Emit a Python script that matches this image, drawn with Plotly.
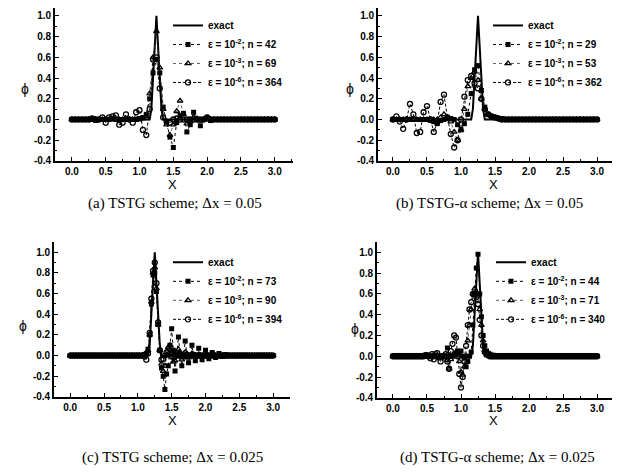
import plotly.graph_objects as go

W, H = 626, 475
OFF = 8                 # default page margin around the plot div
FW, FH = W - 2 * OFF, H - 2 * OFF

# ---------------- grids ----------------
x_coarse = [0.0, 0.05, 0.1, 0.15, 0.2, 0.25, 0.3, 0.35, 0.4, 0.45,
            0.5, 0.55, 0.6, 0.65, 0.7, 0.75, 0.8, 0.85, 0.9, 0.95,
            1.0, 1.05, 1.1, 1.15, 1.2, 1.25, 1.3, 1.35, 1.4, 1.45,
            1.5, 1.55, 1.6, 1.65, 1.7, 1.75, 1.8, 1.85, 1.9, 1.95,
            2.0, 2.05, 2.1, 2.15, 2.2, 2.25, 2.3, 2.35, 2.4, 2.45,
            2.5, 2.55, 2.6, 2.65, 2.7, 2.75, 2.8, 2.85, 2.9, 2.95,
            3.0]

x_fine = [0.0, 0.025, 0.05, 0.075, 0.1, 0.125, 0.15, 0.175, 0.2, 0.225,
          0.25, 0.275, 0.3, 0.325, 0.35, 0.375, 0.4, 0.425, 0.45, 0.475,
          0.5, 0.525, 0.55, 0.575, 0.6, 0.625, 0.65, 0.675, 0.7, 0.725,
          0.75, 0.775, 0.8, 0.825, 0.85, 0.875, 0.9, 0.925, 0.95, 0.975,
          1.0, 1.025, 1.05, 1.075, 1.1, 1.125, 1.15, 1.175, 1.2, 1.225,
          1.25, 1.275, 1.3, 1.325, 1.35, 1.375, 1.4, 1.425, 1.45, 1.475,
          1.5, 1.525, 1.55, 1.575, 1.6, 1.625, 1.65, 1.675, 1.7, 1.725,
          1.75, 1.775, 1.8, 1.825, 1.85, 1.875, 1.9, 1.925, 1.95, 1.975,
          2.0, 2.025, 2.05, 2.075, 2.1, 2.125, 2.15, 2.175, 2.2, 2.225,
          2.25, 2.275, 2.3, 2.325, 2.35, 2.375, 2.4, 2.425, 2.45, 2.475,
          2.5, 2.525, 2.55, 2.575, 2.6, 2.625, 2.65, 2.675, 2.7, 2.725,
          2.75, 2.775, 2.8, 2.825, 2.85, 2.875, 2.9, 2.925, 2.95, 2.975,
          3.0]

# exact solution
exact_x = [0.0, 1.15, 1.175, 1.2, 1.225, 1.25, 1.275, 1.3, 1.325, 1.35, 3.0]
exact_y = [0.0, 0.0, 0.1, 0.35, 0.7, 1.0, 0.7, 0.35, 0.1, 0.0, 0.0]

# ---------------- (a) TSTG, dx = 0.05 ----------------
a_e2 = [0, 0, 0, 0, 0, 0, 0, -0.01, 0, 0,
        0, 0, 0.01, 0, 0, 0, 0, 0, 0, 0,
        0.01, 0.02, 0.05, 0.2, 0.45, 0.58, 0.45, 0.12, -0.02, -0.17,
        -0.27, -0.03, 0.04, 0.06, -0.12, -0.05, 0.07, 0, -0.06, 0,
        0.02, -0.01, 0, 0, 0, 0, 0, 0, 0, 0,
        0, 0, 0, 0, 0, 0, 0, 0, 0, 0,
        0]
a_e3 = [0, 0, 0, 0, 0, 0, 0, 0, 0, 0,
        0, 0, 0, 0, 0, 0, 0, 0, 0, 0,
        0, 0.01, 0.03, 0.25, 0.6, 0.85, 0.5, 0.1, -0.05, -0.15,
        -0.05, 0.08, 0.18, 0.05, -0.04, -0.02, 0.02, 0.01, -0.01, 0,
        0, 0, 0, 0, 0, 0, 0, 0, 0, 0,
        0, 0, 0, 0, 0, 0, 0, 0, 0, 0,
        0]
a_e6 = [0, 0, 0, 0, 0, 0, 0.01, 0, 0, 0.02,
        -0.03, 0.02, 0.03, 0.04, -0.05, -0.03, 0.05, 0, -0.03, 0.07,
        0.09, -0.1, -0.15, 0.1, 0.58, 0.6, 0.3, 0.02, -0.02, -0.03,
        0, 0.01, 0, 0, 0, 0, 0, 0, 0, 0,
        0.02, 0, 0, 0, 0, 0, 0, 0, 0, 0,
        0, 0, 0, 0, 0, 0, 0, 0, 0, 0,
        0]

# ---------------- (b) TSTG-alpha, dx = 0.05 ----------------
b_e2 = [0, 0, 0, 0, 0, 0, 0, 0, 0, 0,
        0, -0.01, -0.02, -0.04, -0.01, 0, 0.01, 0.01, 0, -0.05,
        -0.1, -0.04, 0.05, 0.25, 0.48, 0.52, 0.28, 0.12, 0.05, 0.03,
        0.02, 0.01, 0.01, 0, 0, 0, 0, 0, 0, 0,
        0, 0, 0, 0, 0, 0, 0, 0, 0, 0,
        0, 0, 0, 0, 0, 0, 0, 0, 0, 0,
        0]
b_e3 = [0, 0, 0, 0, 0, 0, 0, 0, 0, 0,
        0, 0, 0, 0, 0.02, 0.05, 0.02, -0.02, -0.12, -0.2,
        -0.1, 0.1, 0.32, 0.4, 0.46, 0.38, 0.2, 0.1, 0.05, 0.03,
        0.02, 0.01, 0, 0, 0, 0, 0, 0, 0, 0,
        0, 0, 0, 0, 0, 0, 0, 0, 0, 0,
        0, 0, 0, 0, 0, 0, 0, 0, 0, 0,
        0]
b_e6 = [0, 0.03, -0.02, -0.09, 0, 0.15, 0.05, -0.13, -0.12, 0.07,
        0.13, 0, -0.12, -0.03, 0.17, 0.24, 0.02, -0.14, -0.27, -0.2,
        0, 0.22, 0.38, 0.42, 0.35, 0.3, 0.2, 0.1, 0.05, 0.03,
        0.02, 0.01, 0, 0, 0, 0, 0, 0, 0, 0,
        0, 0, 0, 0, 0, 0, 0, 0, 0, 0,
        0, 0, 0, 0, 0, 0, 0, 0, 0, 0,
        0]

# ---------------- (c) TSTG, dx = 0.025 ----------------
c_e2 = [0, 0, 0, 0, 0, 0, 0, 0, 0, 0,
        0, 0, 0, 0, 0, 0, 0, 0, 0, 0,
        0, 0, 0, 0, 0, 0, 0, 0, 0, 0,
        0, 0, 0, 0, 0, 0, 0, 0, 0, 0,
        0, 0, 0, 0, 0.01, 0.02, 0.06, 0.2, 0.5, 0.78,
        0.8, 0.62, 0.3, 0.05, -0.12, -0.2, -0.33, -0.18, -0.1, 0.1,
        0.26, 0.05, -0.15, 0, 0.18, 0.02, -0.1, 0, 0.14, 0.01,
        -0.07, 0, 0.1, 0.01, -0.05, 0, 0.07, 0, -0.04, 0,
        0.05, 0, -0.03, 0, 0.03, 0, -0.02, 0, 0.02, 0,
        -0.01, 0, 0.01, 0, 0, 0, 0, 0, 0, 0,
        0, 0, 0, 0, 0, 0, 0, 0, 0, 0,
        0, 0, 0, 0, 0, 0, 0, 0, 0, 0,
        0]
c_e3 = [0, 0, 0, 0, 0, 0, 0, 0, 0, 0,
        0, 0, 0, 0, 0, 0, 0, 0, 0, 0,
        0, 0, 0, 0, 0, 0, 0, 0, 0, 0,
        0, 0, 0, 0, 0, 0, 0, 0, 0, 0,
        0, 0, 0, 0, 0.01, 0.02, 0.05, 0.2, 0.52, 0.8,
        0.85, 0.65, 0.3, 0.05, -0.08, -0.15, -0.1, 0, 0.08, 0.1,
        0.02, -0.06, -0.05, 0.03, 0.06, 0.01, -0.04, -0.02, 0.03, 0.02,
        -0.02, -0.01, 0.02, 0.01, -0.01, 0, 0.01, 0, 0, 0,
        0, 0, 0, 0, 0, 0, 0, 0, 0, 0,
        0, 0, 0, 0, 0, 0, 0, 0, 0, 0,
        0, 0, 0, 0, 0, 0, 0, 0, 0, 0,
        0, 0, 0, 0, 0, 0, 0, 0, 0, 0,
        0]
c_e6 = [0, 0, 0, 0, 0, 0, 0, 0, 0, 0,
        0, 0, 0, 0, 0, 0, 0, 0, 0, 0,
        0, 0, 0, 0, 0, 0, 0, 0, 0, 0,
        0, 0, 0, 0, 0, 0, 0, 0, 0, 0,
        0, 0, 0, 0, -0.01, -0.04, 0.02, 0.22, 0.55, 0.82,
        0.9, 0.7, 0.32, 0.05, -0.04, -0.03, 0, 0.03, 0.04, 0.02,
        -0.01, -0.01, 0, 0.01, 0, 0, 0, 0, 0, 0,
        0, 0, 0, 0, 0, 0, 0, 0, 0, 0,
        0, 0, 0, 0, 0, 0, 0, 0, 0, 0,
        0, 0, 0, 0, 0, 0, 0, 0, 0, 0,
        0, 0, 0, 0, 0, 0, 0, 0, 0, 0,
        0, 0, 0, 0, 0, 0, 0, 0, 0, 0,
        0]

# ---------------- (d) TSTG-alpha, dx = 0.025 ----------------
d_e2 = [0, 0, 0, 0, 0, 0, 0, 0, 0, 0,
        0, 0, 0, 0, 0, 0, 0, 0, 0, 0,
        0, 0, 0, 0, 0, 0, 0, 0, 0, 0,
        0, 0, 0.08, 0, 0, 0, 0.01, 0.02, 0.05, 0.04,
        0.05, 0, -0.02, -0.1, -0.05, 0, 0.04, 0.3, 0.6, 0.85,
        0.98, 0.6, 0.38, 0.2, 0.1, 0.05, 0.03, 0.02, 0.01, 0.01,
        0, 0, 0, 0, 0, 0, 0, 0, 0, 0,
        0, 0, 0, 0, 0, 0, 0, 0, 0, 0,
        0, 0, 0, 0, 0, 0, 0, 0, 0, 0,
        0, 0, 0, 0, 0, 0, 0, 0, 0, 0,
        0, 0, 0, 0, 0, 0, 0, 0, 0, 0,
        0, 0, 0, 0, 0, 0, 0, 0, 0, 0,
        0]
d_e3 = [0, 0, 0, 0, 0, 0, 0, 0, 0, 0,
        0, 0, 0, 0, 0, 0, 0, 0, 0, 0,
        0, 0, 0, 0, -0.01, 0, 0, 0, -0.02, 0,
        0, 0, -0.04, -0.12, -0.03, 0, 0.02, 0.04, 0.03, -0.05,
        -0.15, -0.18, -0.1, 0, 0.15, 0.3, 0.45, 0.6, 0.65, 0.62,
        0.58, 0.45, 0.3, 0.15, 0.06, 0.03, 0.01, 0, 0, 0,
        0, 0, 0, 0, 0, 0, 0, 0, 0, 0,
        0, 0, 0, 0, 0, 0, 0, 0, 0, 0,
        0, 0, 0, 0, 0, 0, 0, 0, 0, 0,
        0, 0, 0, 0, 0, 0, 0, 0, 0, 0,
        0, 0, 0, 0, 0, 0, 0, 0, 0, 0,
        0, 0, 0, 0, 0, 0, 0, 0, 0, 0,
        0]
d_e6 = [0, 0, 0, 0, 0, 0, 0, 0, 0, 0,
        0, 0, 0, 0, 0, 0, 0, 0, 0, 0.01,
        0.01, 0, -0.02, 0.02, -0.03, 0.02, 0.03, -0.01, -0.05, 0,
        0, 0.02, -0.05, -0.12, 0.05, 0.12, 0.2, 0.18, 0, -0.17,
        -0.3, -0.2, -0.05, 0.1, 0.3, 0.45, 0.52, 0.6, 0.6, 0.57,
        0.5, 0.35, 0.2, 0.1, 0.04, 0.02, 0.01, 0, 0, 0,
        0, 0, 0, 0, 0, 0, 0, 0, 0, 0,
        0, 0, 0, 0, 0, 0, 0, 0, 0, 0,
        0, 0, 0, 0, 0, 0, 0, 0, 0, 0,
        0, 0, 0, 0, 0, 0, 0, 0, 0, 0,
        0, 0, 0, 0, 0, 0, 0, 0, 0, 0,
        0, 0, 0, 0, 0, 0, 0, 0, 0, 0,
        0]

iters_a = [42, 69, 364]
iters_b = [29, 53, 362]
iters_c = [73, 90, 394]
iters_d = [44, 71, 340]
eps_exp = ["-2", "-3", "-6"]

captions = ["(a) TSTG scheme; \u0394x = 0.05",
            "(b) TSTG-\u03b1 scheme; \u0394x = 0.05",
            "(c) TSTG scheme; \u0394x = 0.025",
            "(d) TSTG-\u03b1 scheme; \u0394x = 0.025"]

for arr in (a_e2, a_e3, a_e6, b_e2, b_e3, b_e6):
    assert len(arr) == len(x_coarse), len(arr)
for arr in (c_e2, c_e3, c_e6, d_e2, d_e3, d_e6):
    assert len(arr) == len(x_fine), len(arr)

def px(x):
    return (x - OFF) / FW

def py(y):
    return 1 - (y - OFF) / FH

# panel geometry (page pixels): left, right, top, bottom, x/y ranges
panels = [
    dict(l=55, r=293, t=8, b=163, xr=[-0.25, 3.27], yr=[-0.4, 1.076],
         x=x_coarse, ys=[a_e2, a_e3, a_e6], n=iters_a, leg=(168, 11),
         phi=(25, 90), X=(172, 187), cap=(175, 206)),
    dict(l=378, r=612, t=8, b=163, xr=[-0.22, 3.22], yr=[-0.4, 1.076],
         x=x_coarse, ys=[b_e2, b_e3, b_e6], n=iters_b, leg=(488, 11),
         phi=(350, 90), X=(493, 187), cap=(490, 206)),
    dict(l=54, r=290, t=245, b=402, xr=[-0.24, 3.25], yr=[-0.4, 1.1],
         x=x_fine, ys=[c_e2, c_e3, c_e6], n=iters_c, leg=(168, 251),
         phi=(23, 330), X=(172, 426), cap=(172, 463)),
    dict(l=377, r=612, t=245, b=403, xr=[-0.235, 3.22], yr=[-0.4, 1.1],
         x=x_fine, ys=[d_e2, d_e3, d_e6], n=iters_d, leg=(491, 251),
         phi=(355, 333), X=(493, 426), cap=(497, 463)),
]

styles = [
    dict(line=dict(color="black", width=1, dash="dot"),
         marker=dict(symbol="square", size=5, color="black")),
    dict(line=dict(color="#333333", width=0.8, dash="dot"),
         marker=dict(symbol="triangle-up-open", size=5, color="black",
                     line=dict(width=1.3))),
    dict(line=dict(color="black", width=1, dash="3px,2px"),
         marker=dict(symbol="circle-open", size=5, color="black",
                     line=dict(width=1.3))),
]

fig = go.Figure()
annotations = []
layout_extra = {}
tickfont = dict(family="Liberation Sans, Arial", size=10, color="black",
                weight="bold")

for k, p in enumerate(panels):
    sfx = "" if k == 0 else str(k + 1)
    xa, ya = "x" + sfx, "y" + sfx
    legname = "legend" + sfx
    fig.add_trace(go.Scatter(
        x=exact_x, y=exact_y, mode="lines", name="exact",
        line=dict(color="black", width=2),
        xaxis=xa, yaxis=ya, legend=legname))
    for j in range(3):
        st = styles[j]
        fig.add_trace(go.Scatter(
            x=p["x"], y=p["ys"][j], mode="lines+markers",
            name="\u03b5 = 10<sup>%s</sup>; n = %d" % (eps_exp[j], p["n"][j]),
            line=st["line"], marker=st["marker"],
            xaxis=xa, yaxis=ya, legend=legname))
    layout_extra["xaxis" + sfx] = dict(
        domain=[px(p["l"]), px(p["r"])], range=p["xr"], anchor=ya,
        tickvals=[0.0, 0.5, 1.0, 1.5, 2.0, 2.5, 3.0],
        ticktext=["0.0", "0.5", "1.0", "1.5", "2.0", "2.5", "3.0"],
        showline=True, linecolor="black", linewidth=1.6, mirror=False,
        ticks="inside", ticklen=4, tickwidth=1, tickcolor="black",
        minor=dict(ticks="inside", ticklen=2, dtick=0.25, tick0=0,
                   tickcolor="black"),
        showgrid=False, zeroline=False, tickfont=tickfont)
    layout_extra["yaxis" + sfx] = dict(
        domain=[max(py(p["b"]), 0.0), min(py(p["t"]), 1.0)],
        range=p["yr"], anchor=xa,
        tickvals=[-0.4, -0.2, 0.0, 0.2, 0.4, 0.6, 0.8, 1.0],
        ticktext=["-0.4", "-0.2", "0.0", "0.2", "0.4", "0.6", "0.8", "1.0"],
        showline=True, linecolor="black", linewidth=1.6, mirror=False,
        ticks="inside", ticklen=4, tickwidth=1, tickcolor="black",
        minor=dict(ticks="inside", ticklen=2, dtick=0.1, tick0=0,
                   tickcolor="black"),
        showgrid=False, zeroline=False, tickfont=tickfont)
    layout_extra[legname] = dict(
        x=px(p["leg"][0]), y=min(py(p["leg"][1]), 1.0),
        xanchor="left", yanchor="top",
        bgcolor="rgba(0,0,0,0)", borderwidth=0, tracegroupgap=0,
        itemwidth=30,
        font=dict(family="Liberation Sans, Arial", size=10, color="black",
                  weight="bold"))
    annotations.append(dict(
        text="\u03d5", x=px(p["phi"][0]), y=py(p["phi"][1]),
        xref="paper", yref="paper", showarrow=False,
        xanchor="center", yanchor="middle",
        font=dict(family="Liberation Sans, Arial", size=14, color="black")))
    annotations.append(dict(
        text="X", x=px(p["X"][0]), y=py(p["X"][1]),
        xref="paper", yref="paper", showarrow=False,
        xanchor="center", yanchor="middle",
        font=dict(family="Liberation Sans, Arial", size=13, color="black")))
    annotations.append(dict(
        text=captions[k], x=px(p["cap"][0]), y=py(p["cap"][1]),
        xref="paper", yref="paper", showarrow=False,
        xanchor="center", yanchor="middle",
        font=dict(family="Liberation Serif, Times New Roman", size=15,
                  color="black")))

fig.update_layout(
    width=FW, height=FH,
    margin=dict(l=0, r=0, t=0, b=0),
    paper_bgcolor="white", plot_bgcolor="white",
    showlegend=True,
    annotations=annotations,
    **layout_extra)

fig.write_html("out.html")
